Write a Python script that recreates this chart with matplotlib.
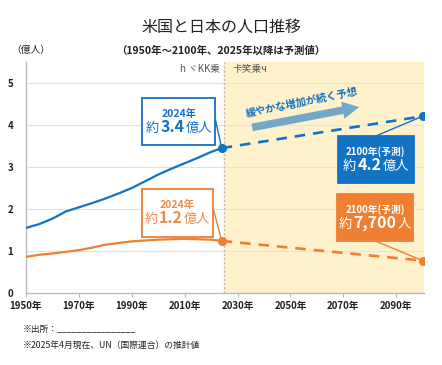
import matplotlib
matplotlib.use("Agg")
import matplotlib.pyplot as plt
from matplotlib.offsetbox import TextArea, HPacker, VPacker, AnnotationBbox
from matplotlib.patches import Rectangle

plt.rcParams['font.family'] = ['Noto Sans CJK JP', 'DejaVu Sans']

# ---- data ----
years = [1950, 1955, 1960, 1965, 1970, 1975, 1980, 1985, 1990, 1995, 2000, 2005, 2010, 2015, 2020, 2024]
us = [1.55, 1.64, 1.77, 1.94, 2.04, 2.14, 2.25, 2.37, 2.50, 2.66, 2.82, 2.96, 3.09, 3.22, 3.36, 3.45]
jp = [0.86, 0.91, 0.94, 0.98, 1.02, 1.08, 1.15, 1.19, 1.23, 1.25, 1.27, 1.28, 1.29, 1.28, 1.27, 1.24]
proj_years = [2024, 2100]
us_proj = [3.45, 4.21]
jp_proj = [1.24, 0.77]
xticks = [1950, 1970, 1990, 2010, 2030, 2050, 2070, 2090]
xticklabels = [f"{y}年" for y in xticks]
yticks = [0, 1, 2, 3, 4, 5]

BLUE = '#1272c4'
ORANGE = '#ee7f33'
ORANGE_T = '#f08a4b'
SHADE = '#fff1cc'

fig = plt.figure(figsize=(4.42, 3.65), dpi=100)
ax = fig.add_axes([0.0588, 0.1973, 0.9005, 0.6327])
ax.set_xlim(1950, 2100.5)
ax.set_ylim(0, 5.5)

# shaded projection zone
ax.axvspan(2025, 2100.5, color=SHADE, zorder=0, lw=0)
ax.axvline(2025, color='#bbbbbb', lw=1, ls=(0, (1.5, 1.5)), zorder=1)

for y in yticks[1:]:
    ax.axhline(y, color='#e2e2e2', lw=0.8, zorder=0.5)

ax.plot(years, us, color=BLUE, lw=1.6, zorder=3, solid_capstyle='round')
ax.plot(years, jp, color=ORANGE, lw=1.6, zorder=3, solid_capstyle='round')
ax.plot(proj_years, us_proj, color=BLUE, lw=1.9, ls=(0, (4, 3)), zorder=3)
ax.plot(proj_years, jp_proj, color=ORANGE, lw=1.9, ls=(0, (4, 3)), zorder=3)
ax.plot(proj_years, us_proj, 'o', color=BLUE, ms=5.5, zorder=4)
ax.plot(proj_years, jp_proj, 'o', color=ORANGE, ms=5.5, zorder=4)

# axes styling
for s in ['top', 'right']:
    ax.spines[s].set_visible(False)
ax.spines['left'].set_color('#bbbbbb')
ax.spines['bottom'].set_color('#bbbbbb')
ax.spines['left'].set_linewidth(1)
ax.spines['bottom'].set_linewidth(1)
ax.set_xticks(xticks)
ax.set_xticklabels(xticklabels, fontsize=7, fontweight='bold', color='#222222')
ax.set_yticks(yticks)
ax.set_yticklabels([str(v) for v in yticks], fontsize=7, fontweight='bold', color='#222222')
ax.tick_params(axis='x', length=3, color='#bbbbbb', pad=3)
ax.tick_params(axis='y', length=0, pad=9)

# period labels
ax.text(2023.5, 5.34, 'h ヾKK乗', fontsize=7, color='#555555', ha='right', va='center')
ax.text(2028, 5.34, '卡笑乗ч', fontsize=7, color='#555555', ha='left', va='center')

# trend arrow
ax.annotate('', xy=(2077, 4.44), xytext=(2034.5, 3.93),
            arrowprops=dict(arrowstyle='simple,head_length=1.2,head_width=1.25,tail_width=0.55',
                            color='#74a8c9', lw=0), zorder=2)
ax.text(2054.5, 4.53, '緩やかな増加が続く予想', fontsize=7.5, fontweight='bold', color=BLUE,
        rotation=11.5, ha='center', va='center', rotation_mode='anchor')


def label_box(cx, cy, w, h, xy, top, num, pre, post, fc, ec, tc, relpos, numsize, topsize, smallsize):
    t1 = TextArea(top, textprops=dict(fontsize=topsize, color=tc, fontweight='bold'))
    a = TextArea(pre, textprops=dict(fontsize=smallsize, color=tc))
    b = TextArea(num, textprops=dict(fontsize=numsize, color=tc, fontweight='bold'))
    c = TextArea(post, textprops=dict(fontsize=smallsize, color=tc))
    line2 = HPacker(children=[a, b, c], align='baseline', pad=0, sep=1)
    vp = VPacker(children=[t1, line2], align='center', pad=0, sep=0)
    pxw = (2100.5 - 1950) / (0.9005 * 442)
    pxh = 5.5 / (0.6327 * 365)
    ax.add_patch(Rectangle((cx - w / 2 * pxw, cy - h / 2 * pxh), w * pxw, h * pxh,
                           facecolor=fc, edgecolor=ec, lw=1.3, zorder=5))
    ab = AnnotationBbox(vp, (cx, cy), xycoords='data', frameon=False, zorder=6)
    ax.add_artist(ab)
    sx = cx + (relpos[0] - 0.5) * w * pxw
    sy = cy + (relpos[1] - 0.5) * h * pxh
    ax.annotate('', xy=xy, xytext=(sx, sy),
                arrowprops=dict(arrowstyle='-', color=ec, lw=1.0, shrinkA=0, shrinkB=0), zorder=4.5)


label_box(2007.8, 4.08, 73, 47, (2024, 3.45), '2024年', '3.4', '約', '億人',
          'white', BLUE, BLUE, (1.0, 0.55), 11.5, 7.5, 9.5)
label_box(2007.3, 1.90, 71, 48, (2024, 1.24), '2024年', '1.2', '約', '億人',
          'white', ORANGE, ORANGE_T, (1.0, 0.62), 11.5, 7.5, 9.5)
label_box(2082.3, 3.18, 76, 47, (2100, 4.21), '2100年(予測)', '4.2', '約', '億人',
          BLUE, BLUE, 'white', (0.5, 1.0), 11.5, 7, 9.5)
label_box(2082.0, 1.80, 76, 47, (2100, 0.77), '2100年(予測)', '7,700', '約', '人',
          ORANGE, ORANGE, 'white', (0.5, 0.0), 11.5, 7, 9.5)

# titles & notes
fig.text(0.5, 0.925, '米国と日本の人口推移', fontsize=11.5, ha='center', va='center', color='#222222')
fig.text(0.5, 0.862, '（1950年～2100年、2025年以降は予測値）', fontsize=7.5, fontweight='bold',
         ha='center', va='center', color='#222222')
fig.text(0.025, 0.862, '（億人）', fontsize=7, ha='left', va='center', color='#222222')
fig.text(0.052, 0.096, '※出所：________________', fontsize=6.3, ha='left', va='center', color='#222222')
fig.text(0.052, 0.055, '※2025年4月現在、UN（国際連合）の推計値', fontsize=6.3, ha='left', va='center', color='#222222')

fig.savefig('out.png', dpi=100)
